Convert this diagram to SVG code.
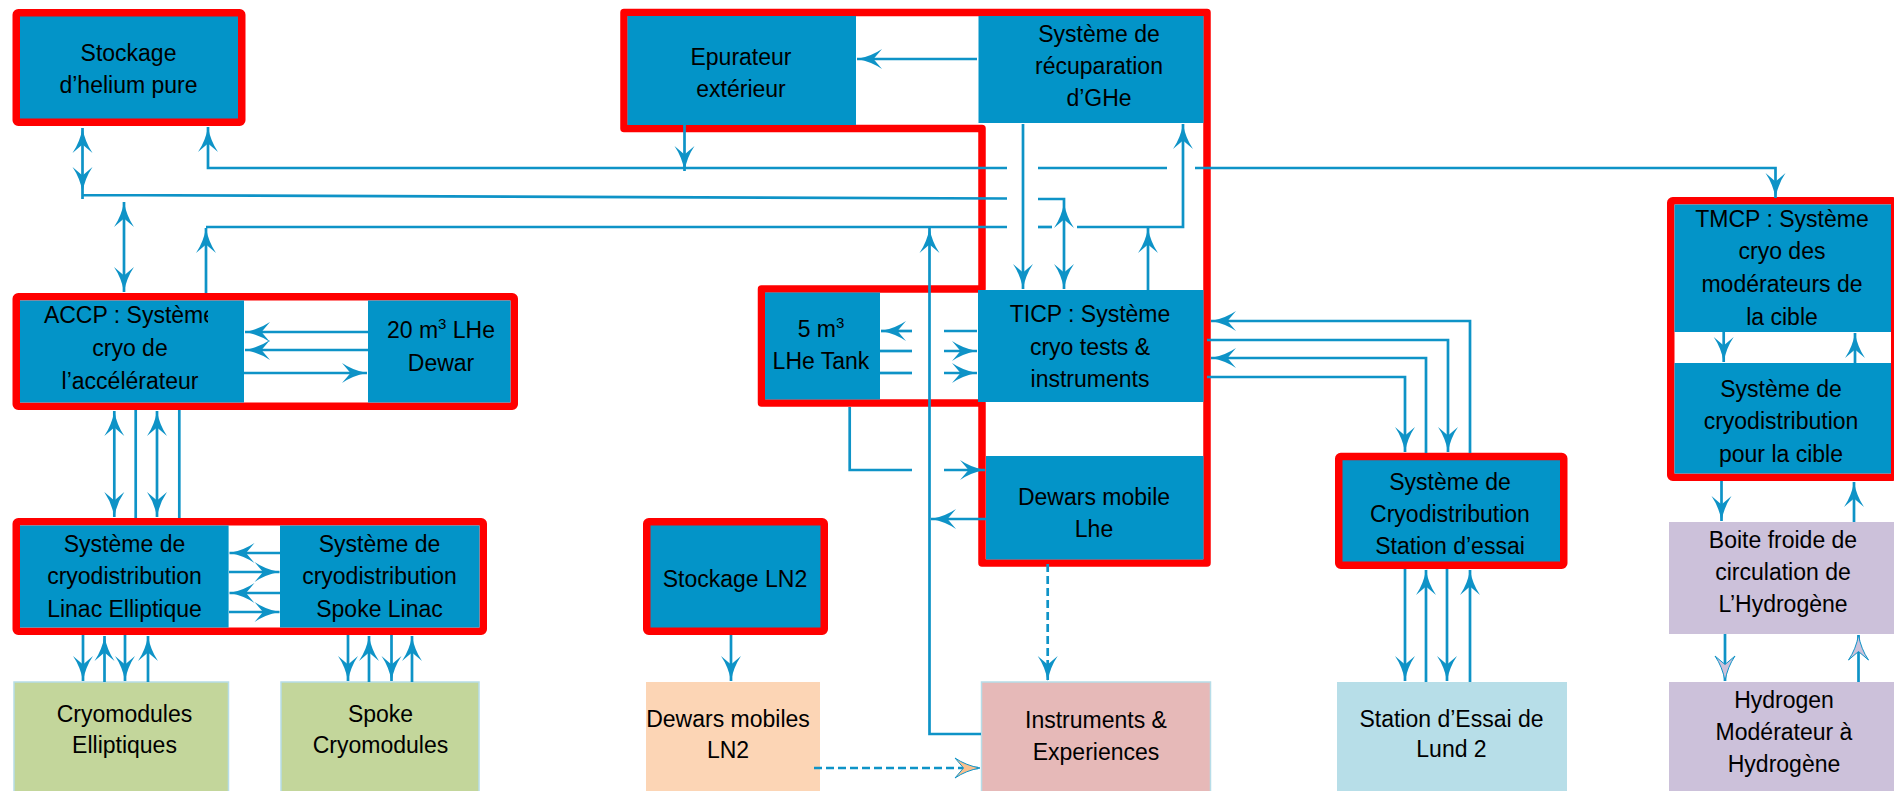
<svg xmlns="http://www.w3.org/2000/svg" width="1894" height="791" viewBox="0 0 1894 791">
<style>
.c{fill:none;stroke:#0e93c7;stroke-width:2.7}
.a{marker-end:url(#ah)}
.b{marker-start:url(#ah);marker-end:url(#ah)}
.d{stroke-dasharray:8 4}
.rf{fill:none;stroke:#ff0000;stroke-width:7.5;stroke-linejoin:round}
.rw{fill:#ffffff;stroke:#ff0000;stroke-width:7.5;stroke-linejoin:round}
.rb{fill:#0394c8;stroke:#ff0000;stroke-width:7.5;stroke-linejoin:round}
.bx{fill:#0394c8}
.t{font-family:"Liberation Sans",Arial,sans-serif;font-size:23px;fill:#000;text-anchor:middle}
.sup{font-size:15px}
</style>
<defs>
<marker id="ah" viewBox="-26 -11 27 22" refX="0" refY="0" markerWidth="27" markerHeight="22" markerUnits="userSpaceOnUse" orient="auto-start-reverse">
<path d="M0,0 Q-14,-2.5 -25,-10 L-16.5,0 L-25,10 Q-14,2.5 0,0 Z" fill="#0e93c7"/>
</marker>
<marker id="al" viewBox="-26 -11 27 22" refX="0" refY="0" markerWidth="27" markerHeight="22" markerUnits="userSpaceOnUse" orient="auto">
<path d="M0,0 Q-14,-2.5 -25,-10 L-16.5,0 L-25,10 Q-14,2.5 0,0 Z" fill="#ccc1da" stroke="#0e93c7" stroke-width="1"/>
</marker>
<marker id="ap" viewBox="-26 -11 27 22" refX="0" refY="0" markerWidth="27" markerHeight="22" markerUnits="userSpaceOnUse" orient="auto">
<path d="M0,0 Q-14,-2.5 -25,-10 L-16.5,0 L-25,10 Q-14,2.5 0,0 Z" fill="#fac08f" stroke="#0e93c7" stroke-width="1"/>
</marker>
<clipPath id="accpclip"><rect x="20" y="300" width="188" height="40"/></clipPath>
</defs>

<g id="stockage-helium">
<rect class="rb" x="16.25" y="12.75" width="225.5" height="109.5" rx="2"/>
<text class="t" x="128.5" y="61">Stockage</text>
<text class="t" x="128.5" y="93">d’helium pure</text>
</g>

<g id="frame-central">
<path class="rf" d="M624,12.5 H1207 V563 H982 V403 H761.5 V289 H982 V128.5 H624 Z"/>
</g>

<g id="epurateur">
<rect class="bx" x="627.5" y="16" width="228.5" height="109"/>
<text class="t" x="741" y="65">Epurateur</text>
<text class="t" x="741" y="97">extérieur</text>
</g>

<g id="recuperation">
<rect class="bx" x="978.5" y="16" width="225" height="107"/>
<text class="t" x="1099" y="42">Système de</text>
<text class="t" x="1099" y="74">récuparation</text>
<text class="t" x="1099" y="106">d’GHe</text>
</g>

<g id="tank-5m3">
<rect class="bx" x="765" y="292.5" width="115" height="107"/>
<text class="t" x="821" y="337">5 m<tspan class="sup" dy="-9">3</tspan></text>
<text class="t" x="821" y="369">LHe Tank</text>
</g>

<g id="ticp">
<rect class="bx" x="978" y="290" width="225.5" height="112"/>
<text class="t" x="1090" y="322">TICP : Système</text>
<text class="t" x="1090" y="355">cryo tests &amp;</text>
<text class="t" x="1090" y="387">instruments</text>
</g>

<g id="dewars-lhe">
<rect class="bx" x="986" y="456" width="217.5" height="103.5"/>
<text class="t" x="1094" y="505">Dewars mobile</text>
<text class="t" x="1094" y="537">Lhe</text>
</g>

<g id="accp-group">
<rect class="rw" x="16.25" y="296.75" width="498" height="109.5" rx="2"/>
</g>
<g id="accp">
<rect class="bx" x="20" y="300.5" width="224" height="102"/>
<text class="t" x="130" y="323" clip-path="url(#accpclip)">ACCP : Système</text>
<text class="t" x="130" y="356">cryo de</text>
<text class="t" x="130" y="389">l’accélérateur</text>
</g>
<g id="dewar-20m3">
<rect class="bx" x="368" y="300.5" width="142.5" height="102"/>
<text class="t" x="441" y="338">20 m<tspan class="sup" dy="-9">3</tspan><tspan dy="9"> LHe</tspan></text>
<text class="t" x="441" y="371">Dewar</text>
</g>

<g id="cryodist-group">
<rect class="rw" x="16.25" y="521.75" width="467" height="109.5" rx="2"/>
</g>
<g id="cryodist-elliptique">
<rect class="bx" x="20" y="525.5" width="208.6" height="102"/>
<text class="t" x="124.5" y="552">Système de</text>
<text class="t" x="124.5" y="584">cryodistribution</text>
<text class="t" x="124.5" y="617">Linac Elliptique</text>
</g>
<g id="cryodist-spoke">
<rect class="bx" x="280" y="525.5" width="199.5" height="102"/>
<text class="t" x="379.5" y="552">Système de</text>
<text class="t" x="379.5" y="584">cryodistribution</text>
<text class="t" x="379.5" y="617">Spoke Linac</text>
</g>

<g id="stockage-ln2">
<rect class="rb" x="646.75" y="521.75" width="177.5" height="109.5" rx="2"/>
<text class="t" x="735" y="587">Stockage LN2</text>
</g>

<g id="cryodist-station">
<rect class="rb" x="1338.75" y="456.5" width="225" height="108.75" rx="2"/>
<text class="t" x="1450" y="490">Système de</text>
<text class="t" x="1450" y="522">Cryodistribution</text>
<text class="t" x="1450" y="554">Station d’essai</text>
</g>

<g id="tmcp-group">
<rect class="rw" x="1670.75" y="200.75" width="224" height="276.5" rx="2"/>
</g>
<g id="tmcp">
<rect class="bx" x="1674.5" y="204.5" width="216.5" height="127.5"/>
<text class="t" x="1782" y="227">TMCP : Système</text>
<text class="t" x="1782" y="259">cryo des</text>
<text class="t" x="1782" y="292">modérateurs de</text>
<text class="t" x="1782" y="325">la cible</text>
</g>
<g id="cryodist-cible">
<rect class="bx" x="1674.5" y="363" width="216.5" height="110.5"/>
<text class="t" x="1781" y="397">Système de</text>
<text class="t" x="1781" y="429">cryodistribution</text>
<text class="t" x="1781" y="462">pour la cible</text>
</g>

<g id="cryomodules-elliptiques">
<rect x="14" y="682" width="214.5" height="120" fill="#c3d69b" stroke="#b7dde8" stroke-width="1.5"/>
<text class="t" x="124.5" y="722">Cryomodules</text>
<text class="t" x="124.5" y="753">Elliptiques</text>
</g>
<g id="spoke-cryomodules">
<rect x="281" y="682" width="198" height="120" fill="#c3d69b" stroke="#b7dde8" stroke-width="1.5"/>
<text class="t" x="380.5" y="722">Spoke</text>
<text class="t" x="380.5" y="753">Cryomodules</text>
</g>
<g id="dewars-ln2">
<rect x="646" y="682" width="174" height="120" fill="#fcd5b5"/>
<text class="t" x="728" y="727">Dewars mobiles</text>
<text class="t" x="728" y="758">LN2</text>
</g>
<g id="instruments">
<rect x="981.5" y="682" width="229" height="120" fill="#e6b9b8" stroke="#b7dde8" stroke-width="1.5"/>
<text class="t" x="1096" y="728">Instruments &amp;</text>
<text class="t" x="1096" y="760">Experiences</text>
</g>
<g id="station-lund">
<rect x="1337" y="682" width="230" height="120" fill="#b7dee8"/>
<text class="t" x="1451.5" y="727">Station d’Essai de</text>
<text class="t" x="1451.5" y="757">Lund 2</text>
</g>
<g id="boite-froide">
<rect x="1669" y="522" width="230" height="112" fill="#ccc1da"/>
<text class="t" x="1783" y="548">Boite froide de</text>
<text class="t" x="1783" y="580">circulation de</text>
<text class="t" x="1783" y="612">L’Hydrogène</text>
</g>
<g id="hydrogen">
<rect x="1669" y="682" width="230" height="120" fill="#ccc1da"/>
<text class="t" x="1784" y="708">Hydrogen</text>
<text class="t" x="1784" y="740">Modérateur à</text>
<text class="t" x="1784" y="772">Hydrogène</text>
</g>

<g id="connectors">
<path class="c a" d="M1007,168 H208 V127"/>
<path class="c" d="M1038,168 H1167"/>
<path class="c a" d="M1195,168 H1775.5 V198"/>
<path class="c b" d="M82.5,128 V192"/>
<path class="c" d="M82.5,192 V199 M82.5,195 L1007,198.5"/>
<path class="c a" d="M684.5,125 V171"/>
<path class="c a" d="M977,59 H857"/>
<path class="c b" d="M124,202 V292"/>
<path class="c a" d="M206,293 V228"/>
<path class="c" d="M206,227 H1007"/>
<path class="c" d="M1038,227 H1052"/>
<path class="c a" d="M1077,227 H1183 V124"/>
<path class="c" d="M1038,199 H1064 V203"/>
<path class="c b" d="M1064,203 V289"/>
<path class="c a" d="M1023,124 V289"/>
<path class="c a" d="M1148,290 V228"/>
<path class="c a" d="M981,734 H929.5 V228"/>
<path class="c" d="M977,331 H944"/>
<path class="c a" d="M912,331 H881"/>
<path class="c" d="M880,351 H912"/>
<path class="c a" d="M944,351 H977"/>
<path class="c" d="M880,373 H912"/>
<path class="c a" d="M944,373 H977"/>
<path class="c" d="M849.7,407 V470 H912"/>
<path class="c a" d="M944,470 H985"/>
<path class="c a" d="M986,519 H931"/>
<path class="c d a" d="M1047.7,564 V681"/>
<path class="c d" d="M814,768 H980" marker-end="url(#ap)"/>
<path class="c a" d="M731,635 V681"/>
<path class="c a" d="M368,332 H245"/>
<path class="c a" d="M368,350 H245"/>
<path class="c a" d="M244,373 H367"/>
<path class="c b" d="M114.3,411 V517"/>
<path class="c" d="M135.7,410 V518"/>
<path class="c b" d="M157,411 V517"/>
<path class="c" d="M179.3,410 V518"/>
<path class="c a" d="M280,553 H229.5"/>
<path class="c a" d="M229,572 H279.5"/>
<path class="c a" d="M280,593 H229.5"/>
<path class="c a" d="M229,612 H279.5"/>
<path class="c a" d="M83,635 V681"/>
<path class="c a" d="M104.5,682 V636"/>
<path class="c a" d="M125,635 V681"/>
<path class="c a" d="M148,682 V636"/>
<path class="c a" d="M348,635 V681"/>
<path class="c a" d="M369,682 V636"/>
<path class="c a" d="M391.5,635 V681"/>
<path class="c a" d="M412,682 V636"/>
<path class="c a" d="M1470,453 V321 H1211"/>
<path class="c a" d="M1207,340 H1448 V452"/>
<path class="c a" d="M1426,453 V358 H1211"/>
<path class="c a" d="M1207,377 H1405 V452"/>
<path class="c a" d="M1405,569 V681"/>
<path class="c a" d="M1426,682 V570"/>
<path class="c a" d="M1447,569 V681"/>
<path class="c a" d="M1470,682 V570"/>
<path class="c a" d="M1723.7,332 V362"/>
<path class="c a" d="M1855,363 V333"/>
<path class="c a" d="M1721.5,481 V521"/>
<path class="c a" d="M1854,522 V482"/>
<path class="c" d="M1725,634 V681" marker-end="url(#al)"/>
<path class="c" d="M1858.5,682 V635" marker-end="url(#al)"/>
</g>
</svg>
